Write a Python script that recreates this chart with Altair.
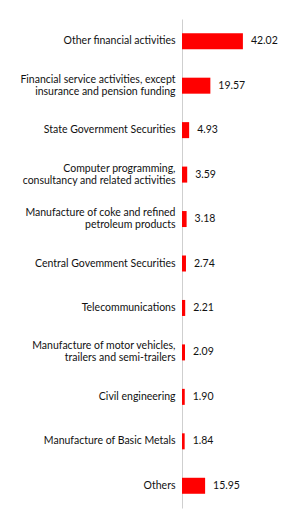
import altair as alt
import pandas as pd

# Sector shares (%), top to bottom; "|" marks a line break in the label
sectors = [
    "Other financial activities",
    "Financial service activities, except|insurance and pension funding",
    "State Government Securities",
    "Computer programming,|consultancy and related activities",
    "Manufacture of coke and refined|petroleum products",
    "Central Govemment Securities",
    "Telecommunications",
    "Manufacture of motor vehicles,|trailers and semi-trailers",
    "Civil engineering",
    "Manufacture of Basic Metals",
    "Others",
]
shares = [42.02, 19.57, 4.93, 3.59, 3.18, 2.74, 2.21, 2.09, 1.90, 1.84, 15.95]
share_labels = ["42.02", "19.57", "4.93", "3.59", "3.18", "2.74", "2.21", "2.09", "1.90", "1.84", "15.95"]

df = pd.DataFrame({"sector": sectors, "share": shares, "label": share_labels})

FONT = "Lato"
TEXT = "#111111"

y_enc = alt.Y(
    "sector:N",
    sort=None,
    scale=alt.Scale(paddingInner=0.64, paddingOuter=0.32),
    axis=alt.Axis(
        title=None,
        ticks=False,
        grid=False,
        domainColor="#cfcfcf",
        domainWidth=1,
        labelPadding=7,
        labelFont=FONT,
        labelFontSize=10.5,
        labelColor=TEXT,
        labelLineHeight=12,
        labelLimit=300,
        labelBaseline="middle",
        # two-line labels are shifted up so the block centres on its bar
        labelOffset={"condition": {"test": "indexof(datum.value, '|') >= 0", "value": -6}, "value": 0},
        labelExpr="split(datum.label, '|')",
    ),
)
x_enc = alt.X("share:Q", scale=alt.Scale(domain=[0, 69]), axis=None)

bars = alt.Chart(df).mark_bar(color="#ff0000").encode(x=x_enc, y=y_enc)

values = alt.Chart(df).mark_text(
    align="left", baseline="middle", dx=8, font=FONT, fontSize=10.5, color=TEXT
).encode(x=x_enc, y=y_enc, text="label:N")

chart = (
    alt.layer(bars, values)
    .properties(
        width=100,
        height=489,
        background="white",
        autosize=alt.AutoSizeParams(type="none"),
        padding={"left": 182, "top": 19, "right": 4, "bottom": 12},
    )
    .configure_view(strokeWidth=0)
)

chart.save("out.html", embed_options={"renderer": "svg", "actions": False})
